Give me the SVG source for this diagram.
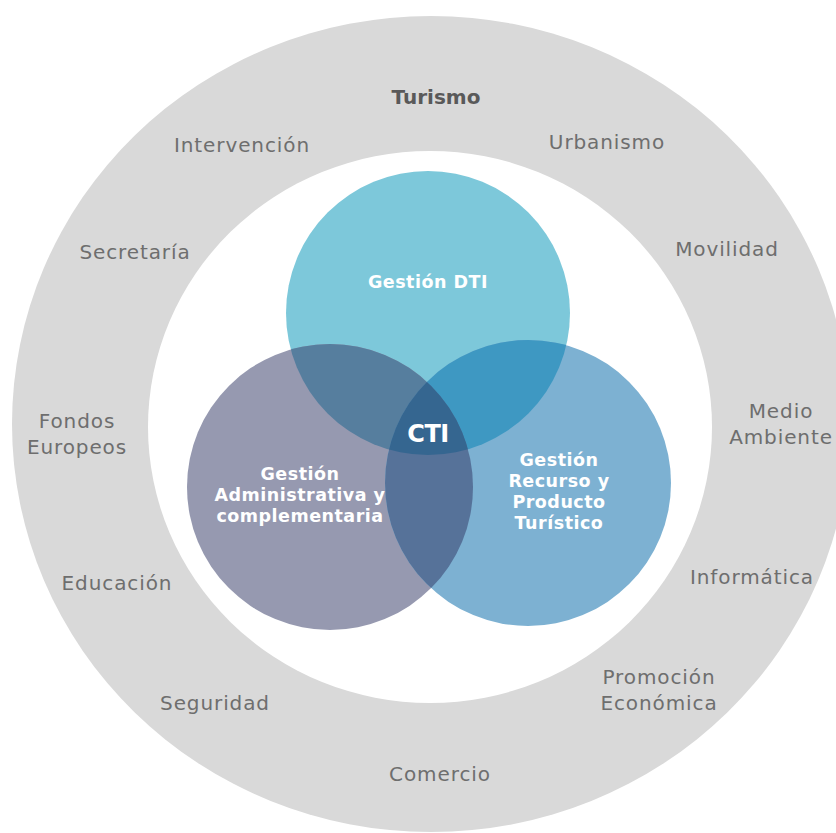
<svg xmlns="http://www.w3.org/2000/svg" width="836" height="833" viewBox="0 0 836 833">
<style>
.lbl{font-family:"DejaVu Sans","Open Sans",sans-serif;font-size:20px;fill:#6e6e6e;text-anchor:middle;letter-spacing:0.9px}
.bold{font-weight:700;fill:#595959;letter-spacing:0px}
.wt{font-family:"DejaVu Sans","Open Sans",sans-serif;font-weight:700;fill:#ffffff;text-anchor:middle;font-size:17.5px;letter-spacing:0.5px}
</style>
<defs>
<clipPath id="cTop"><circle cx="428" cy="313" r="142"/></clipPath>
<clipPath id="cLeft"><circle cx="330" cy="487" r="143"/></clipPath>
</defs>
<rect width="836" height="833" fill="#ffffff"/>
<g id="ring">
<ellipse cx="431" cy="424" rx="419" ry="408" fill="#d9d9d9"/>
<ellipse cx="430" cy="427" rx="282" ry="276" fill="#ffffff"/>
</g>
<g id="areas">
<text class="lbl bold" x="436" y="104">Turismo</text>
<text class="lbl" x="242" y="152">Intervención</text>
<text class="lbl" x="607" y="149">Urbanismo</text>
<text class="lbl" x="135" y="259">Secretaría</text>
<text class="lbl" x="727" y="256">Movilidad</text>
<text class="lbl" x="77" y="428">Fondos</text>
<text class="lbl" x="77" y="454">Europeos</text>
<text class="lbl" x="781" y="418">Medio</text>
<text class="lbl" x="781" y="444">Ambiente</text>
<text class="lbl" x="117" y="590">Educación</text>
<text class="lbl" x="752" y="584">Informática</text>
<text class="lbl" x="215" y="710">Seguridad</text>
<text class="lbl" x="659" y="684">Promoción</text>
<text class="lbl" x="659" y="710">Económica</text>
<text class="lbl" x="440" y="781">Comercio</text>
</g>
<g id="gestion-dti">
<circle cx="428" cy="313" r="142" fill="#7dc8da"/>
</g>
<g id="gestion-admin">
<circle cx="330" cy="487" r="143" fill="#9699b0"/>
</g>
<g id="gestion-recurso">
<circle cx="528" cy="483" r="143" fill="#7db1d2"/>
</g>
<g id="overlaps">
<g clip-path="url(#cTop)"><circle cx="330" cy="487" r="143" fill="#567e9e"/></g>
<g clip-path="url(#cTop)"><circle cx="528" cy="483" r="143" fill="#3e98c2"/></g>
<g clip-path="url(#cLeft)"><circle cx="528" cy="483" r="143" fill="#567299"/></g>
<g clip-path="url(#cTop)"><g clip-path="url(#cLeft)"><circle cx="528" cy="483" r="143" fill="#356690"/></g></g>
</g>
<g id="labels">
<text class="wt" x="428" y="288">Gestión DTI</text>
<text class="wt" x="300" y="480">Gestión</text>
<text class="wt" x="300" y="501">Administrativa y</text>
<text class="wt" x="300" y="522">complementaria</text>
<text class="wt" x="559" y="466">Gestión</text>
<text class="wt" x="559" y="487">Recurso y</text>
<text class="wt" x="559" y="508">Producto</text>
<text class="wt" x="559" y="529">Turístico</text>
<text class="wt" x="428" y="442" style="font-size:24px;letter-spacing:-0.5px">CTI</text>
</g>
</svg>
